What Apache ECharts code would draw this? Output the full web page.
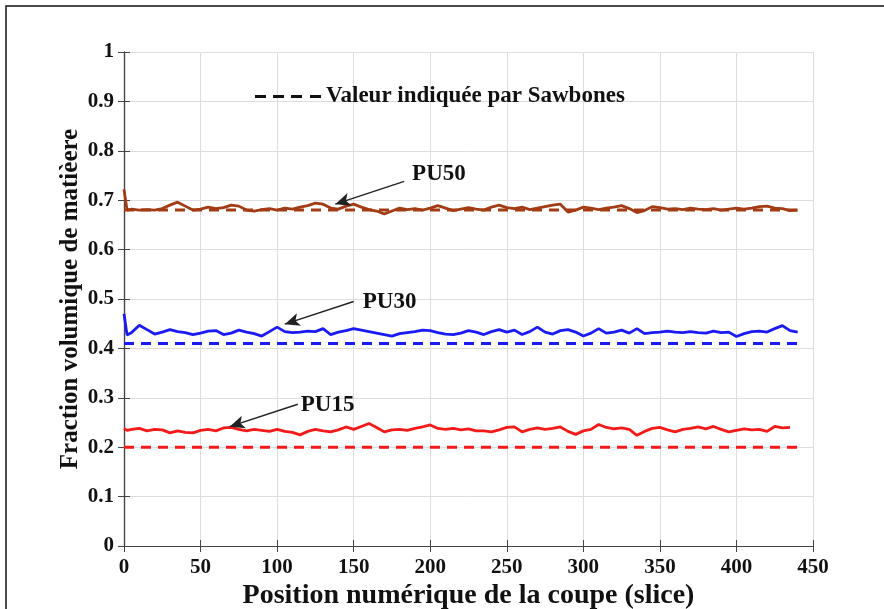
<!DOCTYPE html>
<html>
<head>
<meta charset="utf-8">
<script src="https://cdn.jsdelivr.net/npm/echarts@6/dist/echarts.min.js"></script>
<style>
html,body{margin:0;padding:0;background:#fff;}
#chart{width:884px;height:609px;}
</style>
</head>
<body>
<div id="chart"></div>
<script>
// ---- data ----
const slices = [0,2,5,10,15,20,25,30,35,40,45,50,55,60,65,70,75,80,85,90,95,100,105,110,115,120,125,130,135,140,145,150,155,160,165,170,175,180,185,190,195,200,205,210,215,220,225,230,235,240,245,250,255,260,265,270,275,280,285,290,295,300,305,310,315,320,325,330,335,340,345,350,355,360,365,370,375,380,385,390,395,400,405,410,415,420,425,430,435,440];

const pu50 = [0.722,0.680,0.682,0.680,0.681,0.680,0.683,0.690,0.696,0.688,0.680,0.682,0.686,0.683,0.685,0.690,0.688,0.680,0.678,0.681,0.683,0.680,0.684,0.682,0.686,0.689,0.694,0.692,0.684,0.682,0.688,0.692,0.686,0.681,0.678,0.672,0.678,0.684,0.681,0.683,0.680,0.684,0.689,0.684,0.679,0.682,0.685,0.682,0.680,0.686,0.690,0.685,0.683,0.686,0.681,0.684,0.687,0.690,0.692,0.676,0.680,0.686,0.684,0.681,0.684,0.686,0.689,0.683,0.675,0.679,0.687,0.685,0.682,0.683,0.681,0.684,0.682,0.681,0.683,0.680,0.682,0.684,0.682,0.684,0.687,0.688,0.684,0.683,0.679,0.680];

const pu30 = [0.470,0.427,0.432,0.447,0.438,0.429,0.433,0.438,0.434,0.432,0.428,0.431,0.435,0.436,0.428,0.431,0.437,0.433,0.430,0.425,0.434,0.443,0.434,0.432,0.433,0.435,0.434,0.440,0.428,0.433,0.436,0.440,0.437,0.434,0.431,0.428,0.425,0.430,0.432,0.434,0.437,0.436,0.432,0.429,0.428,0.431,0.436,0.433,0.428,0.434,0.438,0.433,0.437,0.428,0.434,0.443,0.433,0.429,0.436,0.438,0.433,0.425,0.431,0.440,0.431,0.433,0.437,0.431,0.440,0.430,0.432,0.433,0.435,0.433,0.432,0.434,0.432,0.431,0.435,0.432,0.433,0.424,0.430,0.434,0.435,0.433,0.440,0.446,0.436,0.433];

const pu15 = [0.238,0.234,0.236,0.238,0.233,0.236,0.235,0.229,0.233,0.230,0.229,0.234,0.236,0.233,0.239,0.240,0.236,0.233,0.236,0.234,0.232,0.236,0.232,0.230,0.225,0.232,0.236,0.233,0.231,0.235,0.241,0.236,0.242,0.248,0.240,0.231,0.235,0.236,0.234,0.238,0.241,0.245,0.238,0.236,0.238,0.235,0.237,0.233,0.233,0.231,0.235,0.240,0.241,0.231,0.236,0.239,0.236,0.238,0.241,0.232,0.226,0.233,0.236,0.246,0.240,0.237,0.239,0.236,0.224,0.232,0.238,0.240,0.235,0.231,0.236,0.238,0.241,0.237,0.242,0.236,0.231,0.234,0.237,0.235,0.236,0.232,0.242,0.239,0.240,null];

const refX = [0, 440];
const ref50 = [0.68, 0.68];
const ref30 = [0.41, 0.41];
const ref15 = [0.20, 0.20];

const xTicks = [0,50,100,150,200,250,300,350,400,450];
const yTicks = [0,0.1,0.2,0.3,0.4,0.5,0.6,0.7,0.8,0.9,1];

const legendName = 'Valeur indiquée par Sawbones';
const labels = ['PU50','PU30','PU15'];
const labelPos = [[205.7,0.753],[173.5,0.494],[133,0.285]];
const arrowFrom = [[183,0.738],[150,0.495],[113.5,0.287]];
const arrowTo = [[138,0.692],[105,0.449],[69,0.2415]];

// ---- chart ----
const font = '"Liberation Serif","Times New Roman",serif';
const pairs = (xs, ys) => xs.map((x, i) => [x, ys[i]]);
const colors = ['#a33c14', '#1a1af5', '#f51a1a'];

function annot(i) {
  return {
    markLine: {
      silent: true,
      symbol: ['none', 'arrow'],
      symbolSize: [10, 15],
      lineStyle: {color: '#222', width: 1.4, type: 'solid'},
      label: {show: false},
      data: [[{coord: arrowFrom[i]}, {coord: arrowTo[i]}]]
    },
    markPoint: {
      silent: true,
      symbol: 'circle',
      symbolSize: 0,
      label: {show: true, position: 'inside', formatter: labels[i], color: '#111',
              fontFamily: font, fontWeight: 'bold', fontSize: 23},
      data: [{coord: labelPos[i]}]
    }
  };
}

const solid = (name, ys, c, i) => Object.assign({
  name: name, type: 'line', data: pairs(slices, ys), symbol: 'none',
  lineStyle: {color: c, width: 2.8}, itemStyle: {color: c}, z: 3
}, annot(i));

const dashed = (ys, c) => ({
  name: 'ref', type: 'line', data: pairs(refX, ys), symbol: 'none',
  lineStyle: {color: c, width: 3, type: [10, 7]}, itemStyle: {color: c}, z: 2
});

const chart = echarts.init(document.getElementById('chart'), null, {renderer: 'canvas'});
const axisLabel = {color: '#111', fontFamily: font, fontWeight: 'bold', fontSize: 21};
chart.setOption({
  animation: false,
  backgroundColor: '#fff',
  grid: {left: 124, right: 71, top: 52, bottom: 63, show: false,
         containLabel: false, outerBoundsMode: 'none'},
  legend: {
    left: 250, top: 80, itemWidth: 66, itemHeight: 3, itemGap: 6,
    data: [{name: legendName,
            icon: 'path://M0,0h11v3h-11z M18,0h11v3h-11z M36,0h11v3h-11z M55,0h11v3h-11z'}],
    itemStyle: {color: '#111'},
    textStyle: {color: '#111', fontFamily: font, fontWeight: 'bold', fontSize: 23}
  },
  graphic: [{
    type: 'rect', shape: {x: 6, y: 6, width: 1000, height: 800},
    style: {fill: 'none', stroke: '#111', lineWidth: 1.5}, silent: true
  }],
  xAxis: [{
    type: 'value', min: 0, max: 450, interval: 50, position: 'bottom',
    name: 'Position numérique de la coupe (slice)', nameLocation: 'middle', nameGap: 36,
    nameMoveOverlap: false,
    nameTextStyle: {color: '#111', fontFamily: font, fontWeight: 'bold', fontSize: 28},
    axisLine: {show: true, onZero: false, lineStyle: {color: '#444', width: 1.2}},
    axisTick: {show: true, inside: true, length: 6, lineStyle: {color: '#444'}},
    axisLabel: Object.assign({margin: 11}, axisLabel),
    splitLine: {show: true, lineStyle: {color: '#dedede', width: 1}}
  }, {
    type: 'value', min: 0, max: 450, interval: 50, position: 'top',
    axisLine: {show: true, lineStyle: {color: '#444', width: 1.2}},
    axisTick: {show: true, inside: true, length: 6, lineStyle: {color: '#444'}},
    axisLabel: {show: false}, splitLine: {show: false}
  }],
  yAxis: [{
    type: 'value', min: 0, max: 1, interval: 0.1, position: 'left',
    name: 'Fraction volumique de matièere', nameLocation: 'middle', nameGap: 41,
    nameMoveOverlap: false,
    nameTextStyle: {color: '#111', fontFamily: font, fontWeight: 'bold', fontSize: 25},
    axisLine: {show: true, onZero: false, lineStyle: {color: '#444', width: 1.2}},
    axisTick: {show: true, inside: true, length: 6, lineStyle: {color: '#444'}},
    axisLabel: Object.assign({margin: 10, formatter: v => String(Math.round(v * 10) / 10)}, axisLabel),
    splitLine: {show: true, lineStyle: {color: '#dedede', width: 1}}
  }, {
    type: 'value', min: 0, max: 1, interval: 0.1, position: 'right',
    axisLine: {show: true, lineStyle: {color: '#444', width: 1.2}},
    axisTick: {show: true, inside: true, length: 6, lineStyle: {color: '#444'}},
    axisLabel: {show: false}, splitLine: {show: false}
  }],
  series: [
    dashed(ref50, colors[0]),
    dashed(ref30, colors[1]),
    dashed(ref15, colors[2]),
    solid('PU50', pu50, colors[0], 0),
    solid('PU30', pu30, colors[1], 1),
    solid('PU15', pu15, colors[2], 2),
    {name: legendName, type: 'line', data: [], symbol: 'none',
     lineStyle: {color: '#111', width: 2.6, type: [10, 7]}, itemStyle: {color: '#111'}}
  ]
});
</script>
</body>
</html>
